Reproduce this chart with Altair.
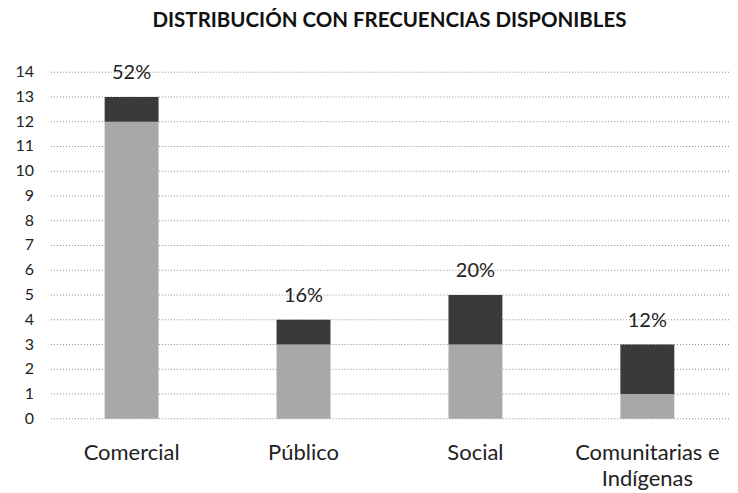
import altair as alt
import pandas as pd

categories = ["Comercial", "Público", "Social", "Comunitarias e Indígenas"]
base_vals = [12, 3, 3, 1]
top_vals = [1, 1, 2, 2]
pct_labels = ["52%", "16%", "20%", "12%"]
y_ticks = list(range(15))

rows = []
for c, b, t in zip(categories, base_vals, top_vals):
    rows.append({"cat": c, "serie": "A", "orden": 0, "val": b})
    rows.append({"cat": c, "serie": "B", "orden": 1, "val": t})
df = pd.DataFrame(rows)

tot = pd.DataFrame({
    "cat": categories,
    "total": [b + t for b, t in zip(base_vals, top_vals)],
    "pct": pct_labels,
})
ticks_df = pd.DataFrame({"t": y_ticks})

FONT = "Lato"

yscale = alt.Scale(domain=[0, 14], nice=False)
xscale = alt.Scale(paddingInner=0.69, paddingOuter=0.32)
xaxis = alt.Axis(
    labelAngle=0,
    labelFontSize=22,
    labelFont=FONT,
    labelColor="#222",
    labelPadding=24,
    ticks=False,
    domain=False,
    labelLimit=300,
    labelLineHeight=26,
    labelExpr="datum.label == 'Comunitarias e Indígenas' ? ['Comunitarias e', 'Indígenas'] : datum.label",
)
yaxis = alt.Axis(labels=False, ticks=False, domain=False, grid=False)

grid = alt.Chart(ticks_df).mark_rule(
    color="#8a8a8a", strokeDash=[1, 2], strokeWidth=1
).encode(
    y=alt.Y("t:Q", scale=yscale, axis=yaxis, title=None),
)

ylabels = alt.Chart(ticks_df).mark_text(
    align="right", baseline="middle", fontSize=16, font=FONT, color="#222"
).encode(
    x=alt.value(-16),
    y=alt.Y("t:Q", scale=yscale, axis=yaxis, title=None),
    text="t:Q",
)

bars = alt.Chart(df).mark_bar(size=54).encode(
    x=alt.X("cat:N", sort=categories, title=None, scale=xscale, axis=xaxis),
    y=alt.Y("val:Q", stack="zero", title=None, scale=yscale, axis=yaxis),
    color=alt.Color(
        "serie:N",
        scale=alt.Scale(domain=["A", "B"], range=["#a8a8a8", "#3a3a3a"]),
        legend=None,
    ),
    order=alt.Order("orden:Q"),
)

texts = alt.Chart(tot).mark_text(
    baseline="bottom", dy=-14, fontSize=20, font=FONT, color="#222"
).encode(
    x=alt.X("cat:N", sort=categories, title=None, scale=xscale, axis=xaxis),
    y=alt.Y("total:Q", title=None, scale=yscale, axis=yaxis),
    text="pct:N",
)

chart = (
    alt.layer(grid, ylabels, bars, texts)
    .properties(
        width=680,
        height=347,
        padding={"left": 7, "top": 2, "right": 0, "bottom": 0},
        title=alt.TitleParams(
            "DISTRIBUCIÓN CON FRECUENCIAS DISPONIBLES",
            fontSize=20.5,
            font=FONT,
            fontWeight="bold",
            color="#111",
            offset=32,
            anchor="middle",
        ),
    )
    .configure_view(stroke=None)
)

chart.save("out.html", embed_options={"renderer": "svg", "actions": False})
